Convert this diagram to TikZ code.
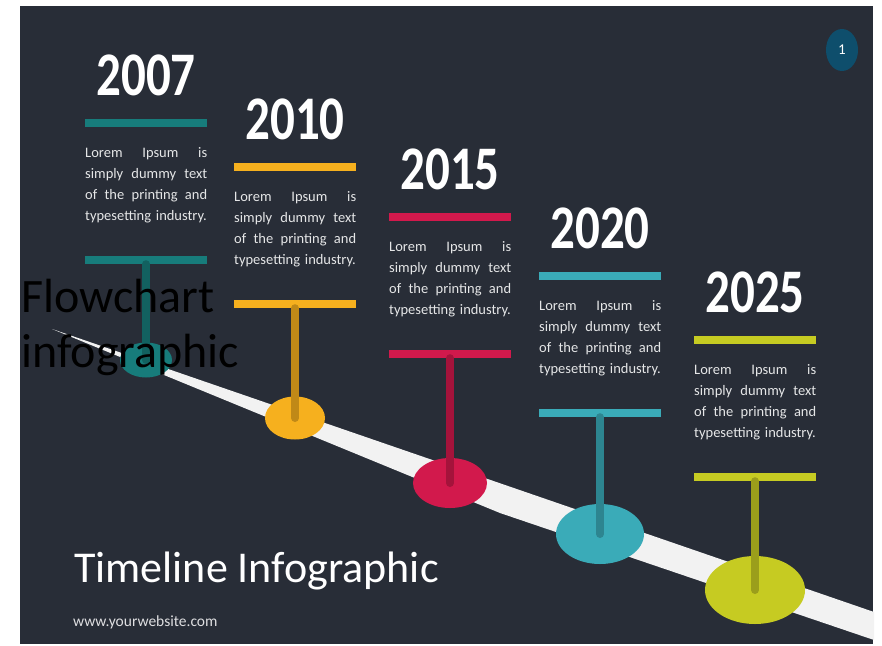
\documentclass[tikz,border=0pt]{standalone}
\usepackage{fontspec}
\setmainfont{Carlito}
\usetikzlibrary{shapes.geometric}

\definecolor{slate}{HTML}{282D37}
\definecolor{road}{HTML}{F2F2F2}
\definecolor{badge}{HTML}{0E4E6C}
\definecolor{cA}{HTML}{177C7B}
\definecolor{cB}{HTML}{F6B01E}
\definecolor{cC}{HTML}{D2194C}
\definecolor{cD}{HTML}{3AABB8}
\definecolor{cE}{HTML}{C6CB22}

\newcommand{\spreadline}[1]{\makebox[122pt][s]{#1}}
\newcommand{\dummytext}{%
  \spreadline{Lorem\hfill Ipsum\hfill is}\\
  \spreadline{simply\hfill dummy\hfill text}\\
  \spreadline{of\hfill the\hfill printing\hfill and}\\
  typesetting industry.}

\begin{document}
\begin{tikzpicture}[x=1pt, y=-1pt,
  year/.style={text=white, inner sep=0, font=\fontsize{62}{62}\selectfont\bfseries},
  band/.style={rectangle, inner sep=0, minimum width=122pt, minimum height=8pt},
  blurb/.style={text=white!88!slate, inner sep=0, text width=124pt, align=left,
    font=\fontsize{14.5}{21.3}\selectfont},
  disc/.style={ellipse, inner sep=0}]

% Slide
\useasboundingbox (0,0) rectangle (882,645);
\fill[slate] (20,6) rectangle (873,644);

% Road
\fill[road] (52,329) -- (874,612) -- (874,640) -- (500,513) -- cycle;

% Timeline columns
\foreach \xc/\yb/\col/\ey/\ew/\eh/\yr in {146/123/cA/360/52/35/2007, 295/167/cB/418/60/43/2010,
    450/217/cC/483/74/50/2015, 600/276/cD/534/88/60/2020, 755/340/cE/590/100/68/2025}{
  \node[year] (y\yr) at (\xc,\yb-48) {\scalebox{0.79}[1]{\yr}};
  \node[band, fill=\col] (bar\yr) at (\xc,\yb) {};
  \node[blurb, anchor=base west] (txt\yr) at (\xc-61,\yb+34) {\dummytext};
  \node[disc, fill=\col, minimum width=\ew pt, minimum height=\eh pt] (disc\yr) at (\xc,\ey) {};
  \node[band, fill=\col] (tbar\yr) at (\xc,\yb+137) {};
  \draw[\col!78!black, line width=8pt, line cap=round] (tbar\yr.south) -- (disc\yr.center);
}

% Slide number
\node[ellipse, fill=badge, minimum width=32pt, minimum height=42pt, inner sep=0,
  text=white, font=\fontsize{15}{15}\selectfont] (num) at (842,50) {1};

% Title
\node[anchor=base west, inner sep=0, text=white, font=\fontsize{44}{44}\selectfont] (title) at (74,582) {Timeline Infographic};
\node[anchor=base west, inner sep=0, text=white!85!slate, font=\fontsize{15.5}{15.5}\selectfont] (web) at (73,626) {www.yourwebsite.com};

% Caption
\node[anchor=north west, inner sep=0, align=left, font=\fontsize{48}{55}\selectfont] (caption) at (21,279) {Flowchart\\infographic};

\end{tikzpicture}
\end{document}
